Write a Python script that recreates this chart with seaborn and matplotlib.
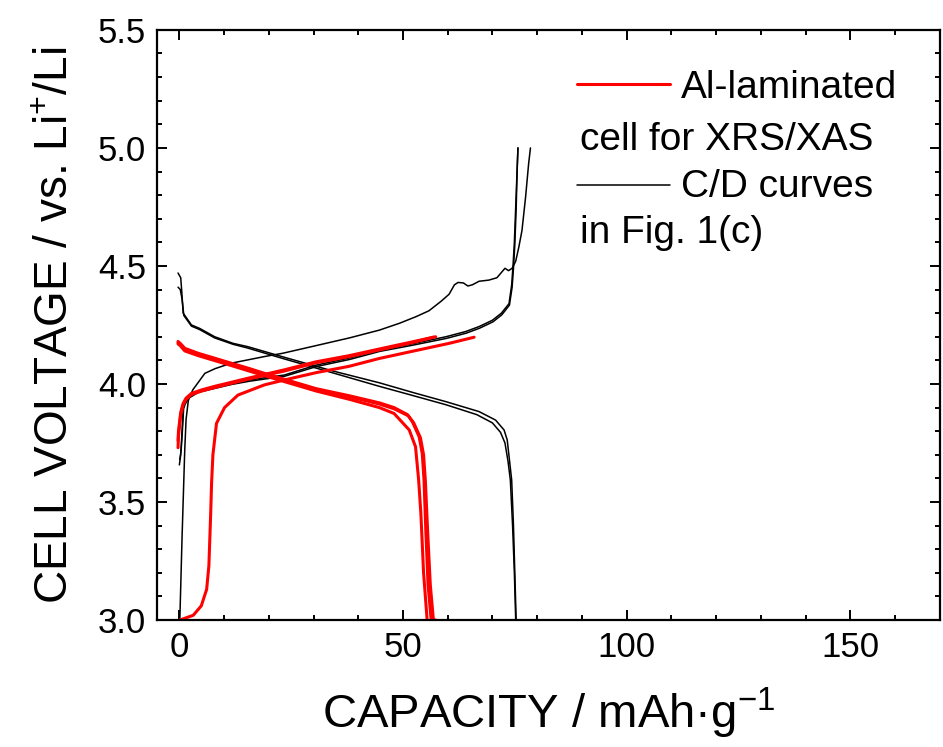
import numpy as np
import pandas as pd
import matplotlib
matplotlib.use("Agg")
import matplotlib.pyplot as plt
import seaborn as sns
from matplotlib.lines import Line2D
from matplotlib.ticker import MultipleLocator

# ---------------- data ----------------
# Al-laminated cell (red)
rc1_x = [0.1, 3.1, 4.9, 6.1, 6.6, 7.0, 7.2, 7.5, 8.3, 10.1, 13.1, 19.0, 23.5, 30.6, 38.0, 44.7, 52.0, 60.3, 65.9]
rc1_v = [3.0, 3.02, 3.06, 3.13, 3.23, 3.45, 3.58, 3.70, 3.833, 3.90, 3.953, 3.996, 4.017, 4.048, 4.075, 4.108, 4.138, 4.172, 4.198]

rc2_x = [-0.3, -0.2, 0.3, 0.85, 1.5, 2.7, 5.0, 7.9, 15.3, 23.5, 30.6, 38.0, 45.4, 52.0, 57.3]
rc2_v = [3.76, 3.80, 3.88, 3.918, 3.94, 3.96, 3.975, 3.99, 4.024, 4.06, 4.094, 4.12, 4.151, 4.178, 4.20]

rc3_x = [-0.3, -0.2, 0.3, 0.85, 1.5, 2.7, 5.0, 7.9, 15.3, 23.5, 30.6, 38.0, 45.4, 52.0, 56.8]
rc3_v = [3.73, 3.78, 3.87, 3.912, 3.935, 3.955, 3.97, 3.985, 4.02, 4.055, 4.09, 4.116, 4.147, 4.175, 4.198]

rd1_x = [-0.3, 0.3, 1.2, 4.2, 11.6, 15.7, 19.0, 30.6, 38.0, 44.7, 48.0, 51.0, 52.1, 53.6, 54.3, 54.7, 55.1, 55.6, 56.3]
rd1_v = [4.18, 4.17, 4.151, 4.13, 4.088, 4.065, 4.045, 3.98, 3.95, 3.92, 3.90, 3.87, 3.84, 3.777, 3.706, 3.593, 3.38, 3.15, 3.0]

rd2_x = [-0.3, 0.3, 1.2, 4.2, 11.6, 15.7, 19.0, 30.6, 38.0, 44.7, 48.0, 51.2, 52.4, 53.9, 54.6, 55.0, 55.5, 56.1, 56.8, 57.3]
rd2_v = [4.175, 4.165, 4.148, 4.127, 4.085, 4.062, 4.042, 3.977, 3.946, 3.915, 3.895, 3.865, 3.835, 3.772, 3.70, 3.59, 3.38, 3.15, 3.0, 3.0]

rd3_x = [-0.3, 0.3, 1.2, 4.2, 11.6, 19.0, 30.6, 38.0, 44.7, 48.0, 51.4, 52.8, 53.5, 54.0, 54.6, 55.4]
rd3_v = [4.17, 4.16, 4.14, 4.12, 4.078, 4.035, 3.97, 3.935, 3.90, 3.875, 3.805, 3.734, 3.593, 3.45, 3.2, 3.0]

# C/D curves in Fig. 1(c) (black)
bc1_x = [0.1, 0.6, 1.2, 1.5, 2.0, 3.0, 5.7, 8.0, 11.6, 19.0, 23.1, 30.0, 38.0, 44.7, 49.2, 52.9, 55.8, 58.5,
         60.3, 61.5, 62.3, 63.5, 64.5, 65.5, 67.0, 69.2, 71.0, 72.8, 73.6, 74.4, 75.2, 75.9, 76.6, 77.4, 78.1, 78.5]
bc1_v = [3.0, 3.35, 3.72, 3.85, 3.93, 3.975, 4.045, 4.065, 4.088, 4.116, 4.13, 4.16, 4.195, 4.228, 4.257, 4.285, 4.31, 4.35,
         4.38, 4.42, 4.43, 4.428, 4.415, 4.42, 4.435, 4.44, 4.45, 4.49, 4.48, 4.49, 4.52, 4.58, 4.65, 4.79, 4.935, 5.0]

bc2_x = [0.0, 0.3, 0.6, 0.85, 1.2, 2.0, 4.2, 11.6, 15.7, 23.5, 30.6, 38.0, 44.7, 52.0, 59.6, 64.0, 67.0, 70.0,
         72.0, 73.7, 74.3, 74.6, 74.9, 75.2, 75.5, 75.7]
bc2_v = [3.657, 3.70, 3.80, 3.90, 3.92, 3.945, 3.97, 4.003, 4.017, 4.038, 4.08, 4.11, 4.144, 4.17, 4.20, 4.222, 4.243, 4.27,
         4.30, 4.34, 4.42, 4.50, 4.60, 4.75, 4.90, 5.0]

bc3_x = [0.1, 0.4, 0.7, 0.95, 1.3, 2.1, 4.3, 11.7, 15.8, 23.6, 30.7, 38.1, 44.8, 52.1, 59.7, 64.1, 67.1, 70.1,
         72.1, 73.8, 74.4, 74.7, 75.0, 75.3, 75.5, 75.7]
bc3_v = [3.68, 3.72, 3.81, 3.895, 3.915, 3.94, 3.965, 3.998, 4.012, 4.033, 4.074, 4.104, 4.138, 4.164, 4.193, 4.215, 4.236, 4.263,
         4.293, 4.334, 4.41, 4.49, 4.59, 4.74, 4.89, 5.0]

bd1_x = [-0.3, 0.3, 0.5, 0.85, 2.7, 4.57, 7.9, 12.0, 15.3, 23.1, 34.3, 44.7, 52.0, 59.6, 67.0, 70.7, 72.6, 73.3,
         73.8, 74.3, 74.7, 75.0, 75.3]
bd1_v = [4.47, 4.45, 4.40, 4.30, 4.25, 4.235, 4.20, 4.172, 4.158, 4.115, 4.055, 4.005, 3.965, 3.925, 3.883, 3.847, 3.805, 3.763,
         3.678, 3.593, 3.40, 3.20, 3.0]

bd2_x = [-0.3, 0.2, 0.6, 1.0, 2.7, 4.57, 7.9, 12.0, 15.3, 23.1, 34.3, 44.7, 52.0, 59.6, 66.5, 70.0, 71.8, 72.8,
         73.5, 74.0, 74.5, 74.9, 75.2]
bd2_v = [4.41, 4.40, 4.36, 4.29, 4.245, 4.23, 4.195, 4.168, 4.152, 4.108, 4.047, 3.99, 3.952, 3.912, 3.87, 3.835, 3.795, 3.75,
         3.67, 3.593, 3.40, 3.20, 3.0]

x_ticks = [0, 50, 100, 150]
y_ticks = [3.0, 3.5, 4.0, 4.5, 5.0, 5.5]
x_label = "CAPACITY / mAh\u00b7g$^{-1}$"
y_label = "CELL VOLTAGE / vs. Li$^{+}$/Li"
legend_red = ["Al-laminated", "cell for XRS/XAS"]
legend_black = ["C/D curves", "in Fig. 1(c)"]

# ---------------- build tidy table ----------------
curves = {
    "rc1": (rc1_x, rc1_v, "red"), "rc2": (rc2_x, rc2_v, "red"), "rc3": (rc3_x, rc3_v, "red"),
    "rd1": (rd1_x, rd1_v, "red"), "rd2": (rd2_x, rd2_v, "red"), "rd3": (rd3_x, rd3_v, "red"),
    "bc1": (bc1_x, bc1_v, "black"), "bc2": (bc2_x, bc2_v, "black"), "bc3": (bc3_x, bc3_v, "black"),
    "bd1": (bd1_x, bd1_v, "black"), "bd2": (bd2_x, bd2_v, "black"),
}
rows = []
for name, (xs, vs, src) in curves.items():
    for i, (a, b) in enumerate(zip(xs, vs)):
        rows.append({"curve": name, "order": i, "capacity": a, "voltage": b, "source": src})
df = pd.DataFrame(rows)

# ---------------- style ----------------
sns.set_style("ticks")
plt.rcParams["font.family"] = ["Liberation Sans", "DejaVu Sans"]
plt.rcParams["mathtext.fontset"] = "custom"
plt.rcParams["mathtext.rm"] = "Liberation Sans"
plt.rcParams["mathtext.it"] = "Liberation Sans:italic"
plt.rcParams["mathtext.bf"] = "Liberation Sans:bold"
plt.rcParams["text.color"] = "black"
plt.rcParams["axes.labelcolor"] = "black"
plt.rcParams["xtick.color"] = "black"
plt.rcParams["ytick.color"] = "black"

fig = plt.figure(figsize=(9.43, 7.47), dpi=100)
ax = fig.add_axes([0.1665, 0.170, 0.830, 0.790])

for src, col, lw in [("black", "black", 1.1), ("red", "#ff0000", 2.2)]:
    sub = df[df["source"] == src]
    sns.lineplot(data=sub, x="capacity", y="voltage", units="curve", estimator=None,
                 sort=False, color=col, linewidth=lw, ax=ax, legend=False)

ax.set_xlim(-5, 170)
ax.set_ylim(3.0, 5.5)
ax.set_xticks(x_ticks)
ax.set_yticks(y_ticks)
ax.set_yticklabels([f"{t:.1f}" for t in y_ticks])
ax.xaxis.set_minor_locator(MultipleLocator(10))
ax.yaxis.set_minor_locator(MultipleLocator(0.1))
ax.tick_params(which="both", direction="in", top=True, right=True, width=1.4, colors="black",
               labelcolor="black")
ax.tick_params(which="major", length=7, labelsize=25, pad=8)
ax.tick_params(which="minor", length=3.5)
for s in ax.spines.values():
    s.set_linewidth(1.6)
    s.set_color("black")

ax.set_xlabel(x_label, fontsize=34, labelpad=16, color="black")
ax.set_ylabel(y_label, fontsize=33, labelpad=14, color="black")

# legend-like annotation
ax.add_line(Line2D([0.536, 0.655], [0.908, 0.908], transform=ax.transAxes, color="#ff0000", lw=2.2))
ax.text(0.670, 0.885, legend_red[0], transform=ax.transAxes, fontsize=28, va="baseline", ha="left", color="black")
ax.text(0.540, 0.797, legend_red[1], transform=ax.transAxes, fontsize=28, va="baseline", ha="left", color="black")
ax.add_line(Line2D([0.536, 0.655], [0.737, 0.737], transform=ax.transAxes, color="black", lw=1.1))
ax.text(0.670, 0.717, legend_black[0], transform=ax.transAxes, fontsize=28, va="baseline", ha="left", color="black")
ax.text(0.540, 0.639, legend_black[1], transform=ax.transAxes, fontsize=28, va="baseline", ha="left", color="black")

fig.savefig("out.png", dpi=100)
